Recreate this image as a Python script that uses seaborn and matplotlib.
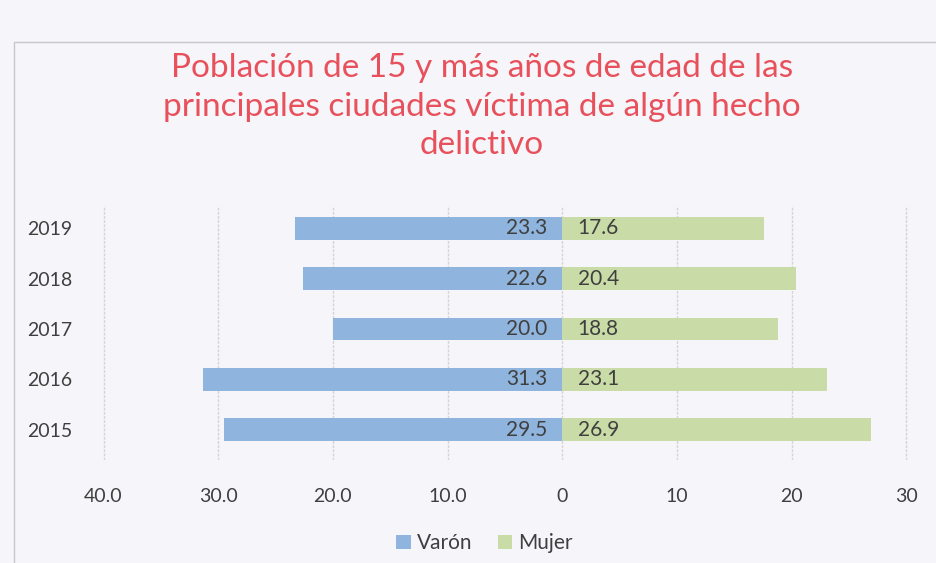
import matplotlib
matplotlib.use("Agg")
import matplotlib.pyplot as plt
import pandas as pd
import seaborn as sns
from matplotlib.patches import Rectangle

years = ["2019", "2018", "2017", "2016", "2015"]
varon = [23.3, 22.6, 20.0, 31.3, 29.5]
mujer = [17.6, 20.4, 18.8, 23.1, 26.9]
tick_values = [-40, -30, -20, -10, 0, 10, 20, 30]
tick_labels = ["40.0", "30.0", "20.0", "10.0", "0", "10", "20", "30"]
title = "Población de 15 y más años de edad de las\nprincipales ciudades víctima de algún hecho\ndelictivo"

blue = "#8FB4DE"
green = "#C9DBA6"
text_gray = "#3F3F3F"

sns.set_theme(style="white")
plt.rcParams["font.family"] = ["Lato", "DejaVu Sans"]

df = pd.DataFrame({"anio": years, "Varón": [-v for v in varon], "Mujer": mujer})

fig = plt.figure(figsize=(9.36, 5.63), dpi=100)
fig.patch.set_facecolor("#F6F6FA")
ax = fig.add_axes([0.107, 0.183, 0.865, 0.449])
ax.set_facecolor("none")

sns.barplot(data=df, y="anio", x="Varón", order=years, color=blue, width=0.45,
            orient="h", ax=ax, label="Varón", saturation=1, linewidth=0)
sns.barplot(data=df, y="anio", x="Mujer", order=years, color=green, width=0.45,
            orient="h", ax=ax, label="Mujer", saturation=1, linewidth=0)

for i, (v, m) in enumerate(zip(varon, mujer)):
    ax.annotate(f"{v:.1f}", xy=(0, i), xytext=(-11, 0), textcoords="offset points",
                ha="right", va="center", fontsize=15, color=text_gray)
    ax.annotate(f"{m:.1f}", xy=(0, i), xytext=(11, 0), textcoords="offset points",
                ha="left", va="center", fontsize=15, color=text_gray)

ax.set_xlim(-40.3, 30.3)
ax.set_ylim(4.6, -0.42)
ax.set_xticks(tick_values)
ax.set_xticklabels(tick_labels, fontsize=14, color=text_gray)
ax.tick_params(axis="x", pad=20, length=0)
ax.tick_params(axis="y", pad=20, length=0, labelsize=14, labelcolor=text_gray)
ax.set_xlabel("")
ax.set_ylabel("")
ax.grid(axis="x", color="#D4D4D4", linewidth=1, linestyle=(0, (2, 1)))
ax.set_axisbelow(True)
for s in ax.spines.values():
    s.set_visible(False)

fig.suptitle(title, x=0.515, y=0.905, va="top", fontsize=24, color="#E8505B",
             linespacing=1.35)

ax.legend(loc="center", bbox_to_anchor=(0.475, -0.33), ncol=2, frameon=False,
          fontsize=15, handlelength=0.7, handleheight=0.7, handletextpad=0.3,
          columnspacing=1.2, labelcolor=text_gray)

fig.add_artist(Rectangle((0.015, -0.05), 1.2, 0.975, transform=fig.transFigure,
                         fill=False, edgecolor="#C8C8C8", linewidth=1))

fig.savefig("out.png", dpi=100, facecolor=fig.get_facecolor())
